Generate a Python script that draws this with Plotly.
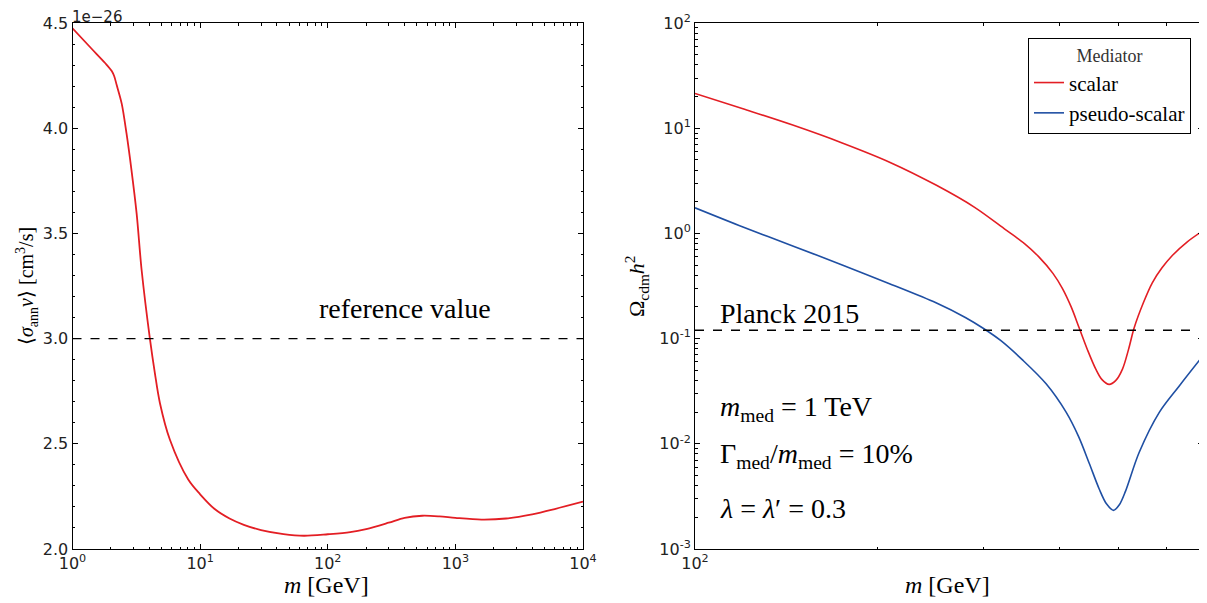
import numpy as np
import plotly.graph_objects as go
from plotly.subplots import make_subplots

# ---- Left panel: thermal cross section vs DM mass ----
m_left = [1.0, 1.4, 1.8, 2.03, 2.12, 2.22, 2.43, 2.65, 2.90, 3.18, 3.48, 4.04, 4.42, 4.84,
          5.8, 8.07, 10, 13, 17, 22, 30, 45, 65, 100, 150, 200, 300, 400, 550, 750,
          1000, 1600, 2500, 4000, 6000, 10000]
sigv = [4.475, 4.38, 4.31, 4.272, 4.248, 4.205, 4.117, 3.975, 3.80, 3.595, 3.326, 3.0, 2.836, 2.694,
        2.519, 2.33, 2.26, 2.19, 2.145, 2.115, 2.09, 2.071, 2.063, 2.07, 2.08, 2.095, 2.125,
        2.148, 2.158, 2.155, 2.148, 2.14, 2.145, 2.165, 2.19, 2.225]   # units of 1e-26 cm^3/s
sigv_ref = 3.0

# ---- Right panel: relic abundance ----
m_scalar = [100, 120, 145, 175, 210, 250, 290, 326, 350, 370, 390, 404, 418, 431, 445, 459, 470,
            483, 495, 508, 520, 531, 550, 569, 590, 614, 650, 688]
omega_scalar = [21.4, 15.3, 10.7, 7.24, 4.73, 2.88, 1.76, 1.08, 0.80, 0.595, 0.417, 0.302, 0.200,
                0.126, 0.0776, 0.0513, 0.0407, 0.0367, 0.0398, 0.0513, 0.0794, 0.126, 0.219, 0.339,
                0.468, 0.617, 0.832, 1.05]
m_pseudo = [100, 120, 145, 175, 210, 250, 280, 300, 320, 347, 380, 410, 430, 448, 465, 478, 491,
            502, 514, 541, 584, 630, 688]
omega_pseudo = [1.75, 1.15, 0.759, 0.501, 0.331, 0.219, 0.158, 0.124, 0.0955, 0.0631, 0.0372,
                0.0200, 0.0117, 0.00646, 0.00372, 0.00269, 0.00233, 0.00263, 0.00355, 0.00822,
                0.0198, 0.0353, 0.0673]
planck = 0.12

RED = "#e31e24"
BLUE = "#1f4fa3"
SERIF = "Liberation Serif"
SANS = "DejaVu Sans"
OFF = 8                       # page body margin
W, H = 1207 - OFF, 603 - OFF

def PX(x):
    return (x - OFF) / W

def PY(y):
    return 1 - (y - OFF) / H

fig = make_subplots(rows=1, cols=2)

fig.add_trace(go.Scatter(x=m_left, y=sigv, mode="lines",
                         line=dict(color=RED, width=1.8, shape="spline", smoothing=0.9),
                         showlegend=False), row=1, col=1)
fig.add_trace(go.Scatter(x=m_scalar, y=omega_scalar, mode="lines", name="scalar",
                         line=dict(color=RED, width=1.6, shape="spline", smoothing=0.9)), row=1, col=2)
fig.add_trace(go.Scatter(x=m_pseudo, y=omega_pseudo, mode="lines", name="pseudo-scalar",
                         line=dict(color=BLUE, width=1.6, shape="spline", smoothing=0.9)), row=1, col=2)

fig.add_hline(y=sigv_ref, line=dict(color="black", width=1.4, dash="dash"), row=1, col=1)
fig.add_hline(y=planck, line=dict(color="black", width=1.4, dash="dash"), row=1, col=2)

tickfont = dict(family=SANS, size=16, color="#222")
common = dict(showline=True, linecolor="black", linewidth=1, mirror="ticks", ticks="inside",
              tickcolor="black", ticklen=5, showgrid=False, zeroline=False, tickfont=tickfont,
              automargin=False)

def minors(decades):
    return [k * 10 ** d for d in decades for k in range(2, 10)]

ydom = [PY(549), PY(23)]
fig.update_xaxes(type="log", range=[0, 4], tickvals=[1, 10, 100, 1000, 10000],
                 ticktext=["10<sup>0</sup>", "10<sup>1</sup>", "10<sup>2</sup>", "10<sup>3</sup>", "10<sup>4</sup>"],
                 minor=dict(ticks="inside", ticklen=2.5, tickcolor="black", tickvals=minors([0, 1, 2, 3])),
                 domain=[PX(72.5), PX(583)], **common, row=1, col=1)
fig.update_yaxes(range=[2.0, 4.5], tickvals=[2.0, 2.5, 3.0, 3.5, 4.0, 4.5], tickformat=".1f",
                 minor=dict(ticks="inside", ticklen=2.5, tickcolor="black", dtick=0.1),
                 domain=ydom, **common, row=1, col=1)
fig.update_xaxes(type="log", range=[2, np.log10(690)], tickvals=[100], ticktext=["10<sup>2</sup>"],
                 minor=dict(ticks="inside", ticklen=2.5, tickcolor="black", tickvals=[200, 300, 400, 500, 600]),
                 domain=[PX(695), PX(1203)], **common, row=1, col=2)
fig.update_yaxes(type="log", range=[-3, 2], tickvals=[1e-3, 1e-2, 1e-1, 1, 10, 100],
                 ticktext=["10<sup>-3</sup>", "10<sup>-2</sup>", "10<sup>-1</sup>", "10<sup>0</sup>",
                           "10<sup>1</sup>", "10<sup>2</sup>"],
                 minor=dict(ticks="inside", ticklen=2.5, tickcolor="black", tickvals=minors([-3, -2, -1, 0, 1])),
                 domain=ydom, **common, row=1, col=2)

def txt(text, x, y, size, xanchor="left", angle=0, color="black", family=SERIF, yanchor="middle"):
    return dict(text=text, xref="paper", yref="paper", x=PX(x), y=PY(y), xanchor=xanchor,
                yanchor=yanchor, textangle=angle, showarrow=False, borderpad=0,
                font=dict(family=family, size=size, color=color))

ann = [
    txt("1e−26", 71, 27, 15, family=SANS, color="#222", yanchor="bottom"),
    txt("<i>m</i> [GeV]", 326, 585, 24, xanchor="center"),
    txt("<i>m</i> [GeV]", 947, 585, 24, xanchor="center"),
    txt("⟨<i>σ</i><sub>ann</sub><i>v</i>⟩ [cm<sup>3</sup>/s]", 27, 286, 20, xanchor="center", angle=-90),
    txt("Ω<sub>cdm</sub><i>h</i><sup>2</sup>", 636, 286, 22, xanchor="center", angle=-90),
    txt("reference value", 405, 308, 28, xanchor="center"),
    txt("Planck 2015", 719, 313, 28),
    txt("<i>m</i><sub>med</sub> = 1 TeV", 719, 408, 28),
    txt("Γ<sub>med</sub>/<i>m</i><sub>med</sub> = 10%", 719, 455, 28),
    txt("<i>λ</i> = <i>λ</i>′ = 0.3", 719, 508, 28),
]

fig.update_layout(
    width=W, height=H, margin=dict(l=0, r=0, t=0, b=0),
    paper_bgcolor="white", plot_bgcolor="white",
    annotations=list(fig.layout.annotations) + ann,
    legend=dict(x=PX(1191), y=PY(38), xanchor="right", yanchor="top",
                bordercolor="black", borderwidth=1, bgcolor="white",
                font=dict(family=SERIF, size=21, color="black"),
                title=dict(text="Mediator", side="top center", font=dict(family=SERIF, size=18, color="#333")),
                itemwidth=30, tracegroupgap=0),
)

fig.write_html("out.html")
